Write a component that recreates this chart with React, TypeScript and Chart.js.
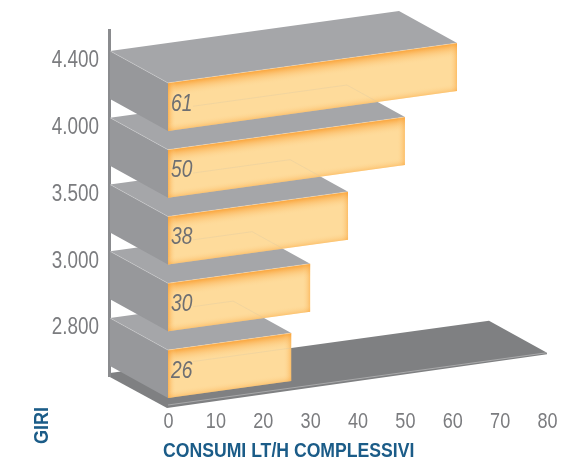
import React, { useEffect, useRef } from "react";
import { Chart, registerables } from "chart.js";

Chart.register(...registerables);

const categories = ["4.400", "4.000", "3.500", "3.000", "2.800"];
const consumi = [61, 50, 38, 30, 26];
const xTicks = [0, 10, 20, 30, 40, 50, 60, 70, 80];
const xTitle = "CONSUMI LT/H COMPLESSIVI";
const yTitle = "GIRI";

const SLOPE = 0.138;
const DX = -58;
const DY = -32;
const FONT = '"Liberation Sans", sans-serif';
const TEXT_GREY = "#7b7c7f";
const TITLE_BLUE = "#1b5c88";

function poly(ctx: CanvasRenderingContext2D, pts: number[][], fill?: string) {
  ctx.beginPath();
  pts.forEach((p, i) => (i ? ctx.lineTo(p[0], p[1]) : ctx.moveTo(p[0], p[1])));
  ctx.closePath();
  if (fill) {
    ctx.fillStyle = fill;
    ctx.fill();
  }
}

function line(ctx: CanvasRenderingContext2D, pts: number[][], color: string, width = 1) {
  ctx.beginPath();
  pts.forEach((p, i) => (i ? ctx.lineTo(p[0], p[1]) : ctx.moveTo(p[0], p[1])));
  ctx.strokeStyle = color;
  ctx.lineWidth = width;
  ctx.stroke();
}

// The type in the picture is condensed: text is drawn squeezed horizontally about its anchor.
function narrowText(
  ctx: CanvasRenderingContext2D,
  text: string,
  x: number,
  y: number,
  font: string,
  color: string,
  squeeze: number,
  align: CanvasTextAlign = "left",
  baseline: CanvasTextBaseline = "middle",
) {
  ctx.save();
  ctx.translate(x, y);
  ctx.scale(squeeze, 1);
  ctx.font = font;
  ctx.fillStyle = color;
  ctx.textAlign = align;
  ctx.textBaseline = baseline;
  ctx.fillText(text, 0, 0);
  ctx.restore();
}

function drawFace(ctx: CanvasRenderingContext2D, x0: number, top: number, w: number, h: number) {
  ctx.save();
  ctx.transform(1, -SLOPE, 0, 1, x0, top);
  ctx.fillStyle = "#fedb9b";
  ctx.fillRect(0, 0, w, h);
  const band = (gx0: number, gy0: number, gx1: number, gy1: number, alpha: number) => {
    const g = ctx.createLinearGradient(gx0, gy0, gx1, gy1);
    g.addColorStop(0, `rgba(250,160,50,${alpha})`);
    g.addColorStop(0.35, `rgba(251,178,85,${alpha * 0.6})`);
    g.addColorStop(1, "rgba(254,219,155,0)");
    ctx.fillStyle = g;
    ctx.fillRect(0, 0, w, h);
  };
  band(0, 0, 0, 15, 0.95);
  band(0, 0, 8, 0, 0.7);
  band(w, 0, w - 8, 0, 0.5);
  band(0, h, 0, h - 8, 0.4);
  ctx.restore();
}

const Bars3D = {
  id: "bars3d",
  beforeDatasetDraw(chart: any) {
    const ctx: CanvasRenderingContext2D = chart.ctx;
    const xs = chart.scales.x;
    const bars = chart.getDatasetMeta(0).data;
    const x0 = xs.getPixelForValue(0);
    const x80 = xs.getPixelForValue(80);
    const area = chart.chartArea;
    ctx.save();

    // floor
    const floorFrontY = area.bottom - 2.5;
    const fr = [x80, floorFrontY - (x80 - x0) * SLOPE];
    const fl = [x0, floorFrontY];
    const br = [x80 + DX, fr[1] + DY];
    const bl = [x0 + DX, fl[1] + DY];
    poly(ctx, [[bl[0] - 2, bl[1] + 3], bl, br, fr, [fr[0], fr[1] + 1.5], [fl[0] - 1, fl[1] + 3]], "#7f8082");
    line(ctx, [fl, fr], "rgba(225,225,225,0.6)", 0.7);

    // wall
    poly(ctx, [[108, 29], [111, 29], [111, 377], [108, 377]], "#8a8b8e");

    // bars, lowest first so the upper ones sit in front
    for (let i = bars.length - 1; i >= 0; i--) {
      const b = bars[i];
      const xEnd = b.x;
      const xStart = b.base;
      const h = b.height;
      const top = b.y - h / 2;
      const w = xEnd - xStart;
      const yEnd = top - w * SLOPE;

      const A = [xStart, top];
      const B = [xEnd, yEnd];
      const C = [xEnd, yEnd + h];
      const D = [xStart, top + h];

      poly(ctx, [A, B, [B[0] + DX, B[1] + DY], [A[0] + DX, A[1] + DY]], "#a5a6a9");
      poly(ctx, [A, [A[0] + DX, A[1] + DY], [D[0] + DX, D[1] + DY], D], "#97989b");
      drawFace(ctx, xStart, top, w, h);

      // outline of what lies behind, seen through the face
      ctx.save();
      poly(ctx, [A, B, C, D]);
      ctx.clip();
      let ghost: number[][];
      if (i + 1 < bars.length) {
        const n = bars[i + 1];
        const nw = n.x - n.base;
        const nTop = n.y - n.height / 2;
        const backR = [n.x + DX, nTop - nw * SLOPE + DY];
        ghost = [
          [xStart + 25, backR[1] + (backR[0] - xStart - 25) * SLOPE],
          backR,
          [n.x, nTop - nw * SLOPE],
        ];
      } else {
        ghost = [[xStart + 25, bl[1] - (xStart + 25 - bl[0]) * SLOPE], br];
      }
      line(ctx, ghost, "rgba(215,200,165,0.55)", 0.6);
      ctx.restore();

      line(ctx, [A, B], "rgba(240,240,240,0.6)", 0.6);
      line(ctx, [[A[0] + DX, A[1] + DY], A], "rgba(235,235,235,0.6)", 0.5);

      narrowText(ctx, String(consumi[i]), xStart + 3, top + 21, `italic 24px ${FONT}`, "#6e6f72", 0.8);
    }
    ctx.restore();
    return false;
  },
  afterDraw(chart: any) {
    const ctx: CanvasRenderingContext2D = chart.ctx;
    const xs = chart.scales.x;
    const ys = chart.scales.y;
    xTicks.forEach((v) => {
      narrowText(ctx, String(v), xs.getPixelForValue(v) + 0.5, 422, `22px ${FONT}`, TEXT_GREY, 0.82, "center");
    });
    categories.forEach((c, i) => {
      narrowText(ctx, c, 99, ys.getPixelForValue(i) - 46, `23px ${FONT}`, TEXT_GREY, 0.82, "right");
    });
    narrowText(ctx, xTitle, 163, 457, `bold 20.5px ${FONT}`, TITLE_BLUE, 0.86, "left", "alphabetic");
    ctx.save();
    ctx.translate(48, 444);
    ctx.rotate(-Math.PI / 2);
    narrowText(ctx, yTitle, 0, 0, `bold 20.5px ${FONT}`, TITLE_BLUE, 0.88, "left", "alphabetic");
    ctx.restore();
  },
};

export default function App() {
  const ref = useRef<HTMLCanvasElement>(null);
  useEffect(() => {
    const chart = new Chart(ref.current!, {
      type: "bar",
      data: {
        labels: categories,
        datasets: [{ data: consumi, barThickness: 48, backgroundColor: "#fedb9b" }],
      },
      options: {
        indexAxis: "y",
        animation: false,
        responsive: false,
        layout: { padding: { left: 168, top: 73.5, right: 17, bottom: 53.5 } },
        plugins: { legend: { display: false }, tooltip: { enabled: false } },
        scales: {
          x: {
            type: "linear",
            min: 0,
            max: 80,
            grid: { display: false, drawTicks: false },
            border: { display: false },
            ticks: { display: false },
          },
          y: {
            type: "category",
            grid: { display: false, drawTicks: false },
            border: { display: false },
            ticks: { display: false },
          },
        },
      },
      plugins: [Bars3D],
    } as any);
    return () => chart.destroy();
  }, []);
  return (
    <canvas
      ref={ref}
      width={564}
      height={461}
      style={{ position: "absolute", left: 0, top: 0, width: 564, height: 461 }}
    />
  );
}
